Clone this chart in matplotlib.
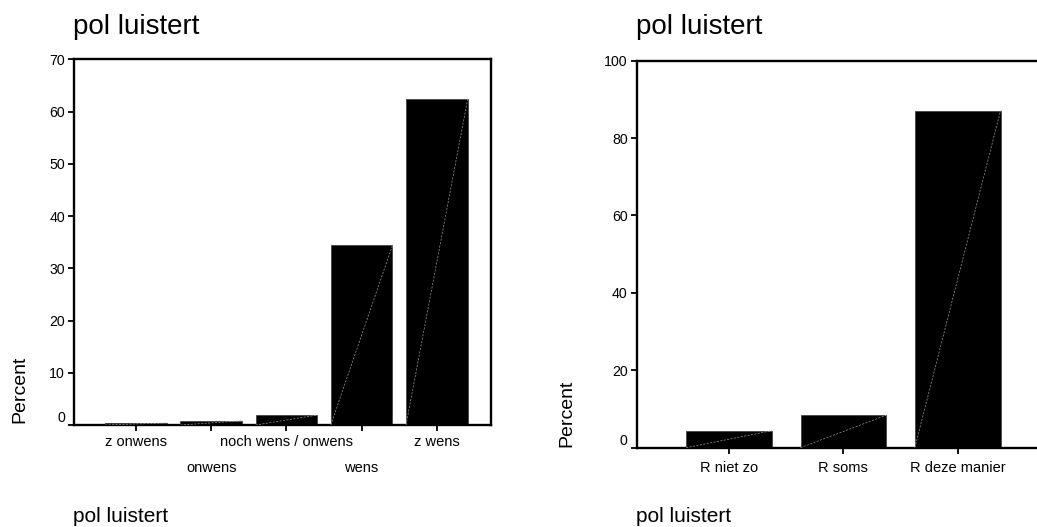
import numpy as np
import matplotlib
matplotlib.use("Agg")
import matplotlib.pyplot as plt
import matplotlib.transforms as mtransforms

plt.rcParams['font.family'] = ['Liberation Sans', 'DejaVu Sans']

# left chart: pol luistert (wens scale)
left_categories = ["z onwens", "onwens", "noch wens / onwens", "wens", "z wens"]
left_percent = [0.4, 0.8, 1.9, 34.4, 62.4]
left_yticks = [0, 10, 20, 30, 40, 50, 60, 70]

# right chart: pol luistert (R scale)
right_categories = ["R niet zo", "R soms", "R deze manier"]
right_percent = [4.4, 8.4, 87.1]
right_yticks = [0, 20, 40, 60, 80, 100]

title = "pol luistert"
footer = "pol luistert"


def draw_bars(ax, cats, vals, width):
    x = np.arange(len(cats))
    ax.bar(x, vals, width=width, color="black", edgecolor="#444444", linewidth=0.6, zorder=2)
    # thin diagonal artefact line over each bar
    for xi, v in zip(x, vals):
        ax.plot([xi - width / 2, xi + width / 2], [0, v], color="#9a9a9a",
                linewidth=0.5, linestyle=(0, (3, 2)), zorder=3)
    return x


def style_axis(ax, yticks, xpad_rows, ylab_xy):
    for side in ax.spines.values():
        side.set_linewidth(1.7)
    ax.set_yticks(yticks)
    ax.set_yticklabels([str(t) for t in yticks])
    ax.tick_params(axis="y", direction="out", length=4, width=1.3, labelsize=10.2, pad=2.5)
    ax.tick_params(axis="x", direction="out", length=4.5, width=1.3, labelsize=10.5)
    for tick, pad in zip(ax.xaxis.get_major_ticks(), xpad_rows):
        tick.set_pad(pad)
    # SPSS draws the zero label slightly above the axis line
    lab0 = ax.yaxis.get_major_ticks()[0].label1
    lab0.set_transform(lab0.get_transform() +
                       mtransforms.ScaledTranslation(0, 8 / 100, ax.figure.dpi_scale_trans))
    ax.set_ylabel("Percent", fontsize=14)
    ax.yaxis.set_label_coords(*ylab_xy)


fig = plt.figure(figsize=(10.37, 5.27), dpi=100)

# left panel
ax1 = fig.add_axes([74 / 1037, 102 / 527, 417 / 1037, 365.7 / 527])
x1 = draw_bars(ax1, left_categories, left_percent, 0.82)
ax1.set_xticks(x1)
ax1.set_xticklabels(left_categories)
ax1.set_xlim(-0.824, 4.72)
ax1.set_ylim(0, 70)
style_axis(ax1, left_yticks, [2.5, 21.5, 2.5, 21.5, 2.5], (-0.110, 0.098))

# right panel (frame runs off the right edge of the picture)
ax2 = fig.add_axes([636.7 / 1037, 79.3 / 527, 417 / 1037, 387 / 527])
x2 = draw_bars(ax2, right_categories, right_percent, 0.75)
ax2.set_xticks(x2)
ax2.set_xticklabels(right_categories)
ax2.set_xlim(-0.808, 2.84)
ax2.set_ylim(0, 100)
style_axis(ax2, right_yticks, [5, 5, 5], (-0.148, 0.0897))

fig.text(73 / 1037, 1 - 34 / 527, title, fontsize=20, va="baseline", ha="left")
fig.text(636 / 1037, 1 - 34 / 527, title, fontsize=20, va="baseline", ha="left")
fig.text(73 / 1037, 5.3 / 527, footer, fontsize=15, va="baseline", ha="left")
fig.text(636 / 1037, 5.3 / 527, footer, fontsize=15, va="baseline", ha="left")

fig.savefig("out.png", dpi=100)
